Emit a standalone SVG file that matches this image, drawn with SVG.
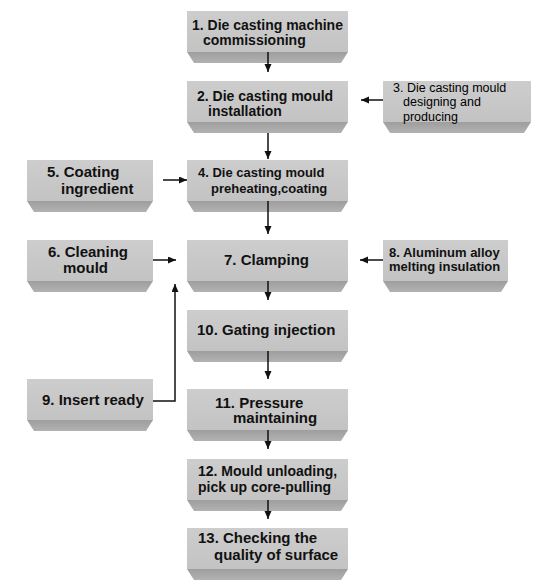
<svg xmlns="http://www.w3.org/2000/svg" width="549" height="586" viewBox="0 0 549 586">
<style>
.face{fill:url(#gFace)}
.bev{fill:url(#gBev)}
.t{font-family:"Liberation Sans",Arial,sans-serif;font-weight:bold;fill:#111}
.r{font-weight:normal;fill:#000;font-size:12.5px}
.s15{font-size:15px}.s14{font-size:14px}.s13{font-size:13px}
.c{fill:none;stroke:#111;stroke-width:1.5}
</style>
<defs>
<linearGradient id="gFace" x1="0" y1="0" x2="0" y2="1"><stop offset="0" stop-color="#cdcdcd"/><stop offset="1" stop-color="#c3c3c3"/></linearGradient>
<linearGradient id="gBev" x1="0" y1="0" x2="0" y2="1"><stop offset="0" stop-color="#9e9e9e"/><stop offset="1" stop-color="#b2b2b2"/></linearGradient>
<marker id="ah" markerUnits="userSpaceOnUse" markerWidth="9" markerHeight="8" refX="8" refY="3.5" orient="auto"><path d="M0,0 L8,3.5 L0,7 z" fill="#111"/></marker>
</defs>
<rect width="549" height="586" fill="#fff"/>

<g id="n1"><rect class="face" x="187" y="11" width="161" height="41"/><path class="bev" d="M187,52 H348 L341,63 H194 Z"/>
<text class="t s14" x="192" y="29.5">1. Die casting machine</text><text class="t s14" x="203" y="45">commissioning</text></g>

<g id="n2"><rect class="face" x="187" y="81" width="161" height="41"/><path class="bev" d="M187,122 H348 L341,133 H194 Z"/>
<text class="t s14" x="197" y="101">2. Die casting mould</text><text class="t s14" x="208" y="116">installation</text></g>

<g id="n3"><rect class="face" x="383" y="81" width="148" height="41"/><path class="bev" d="M383,122 H531 L524,133 H390 Z"/>
<text class="t r" x="393" y="91.5">3. Die casting mould</text><text class="t r" x="403" y="106">designing and</text><text class="t r" x="403" y="120.5">producing</text></g>

<g id="n5"><rect class="face" x="27" y="160" width="126" height="41"/><path class="bev" d="M27,201 H153 L146,212 H34 Z"/>
<text class="t s15" x="47" y="177">5. Coating</text><text class="t s15" x="61" y="194">ingredient</text></g>

<g id="n4"><rect class="face" x="187" y="160" width="161" height="41"/><path class="bev" d="M187,201 H348 L341,212 H194 Z"/>
<text class="t s13" x="198" y="177">4. Die casting mould</text><text class="t s13" x="211" y="193">preheating,coating</text></g>

<g id="n6"><rect class="face" x="27" y="240" width="126" height="41"/><path class="bev" d="M27,281 H153 L146,292 H34 Z"/>
<text class="t s15" x="48" y="257">6. Cleaning</text><text class="t s15" x="63" y="273">mould</text></g>

<g id="n7"><rect class="face" x="187" y="240" width="161" height="41"/><path class="bev" d="M187,281 H348 L341,292 H194 Z"/>
<text class="t s15" x="224" y="265">7. Clamping</text></g>

<g id="n8"><rect class="face" x="383" y="240" width="125" height="41"/><path class="bev" d="M383,281 H508 L501,292 H390 Z"/>
<text class="t s13" x="389" y="257">8. Aluminum alloy</text><text class="t s13" x="389" y="271">melting insulation</text></g>

<g id="n10"><rect class="face" x="187" y="310" width="161" height="41"/><path class="bev" d="M187,351 H348 L341,362 H194 Z"/>
<text class="t s15" x="197" y="335">10. Gating injection</text></g>

<g id="n9"><rect class="face" x="27" y="379" width="126" height="41"/><path class="bev" d="M27,420 H153 L146,431 H34 Z"/>
<text class="t s15" x="42" y="405">9. Insert ready</text></g>

<g id="n11"><rect class="face" x="187" y="389" width="161" height="41"/><path class="bev" d="M187,430 H348 L341,441 H194 Z"/>
<text class="t s15" x="215" y="408">11. Pressure</text><text class="t s15" x="233" y="423">maintaining</text></g>

<g id="n12"><rect class="face" x="187" y="459" width="161" height="41"/><path class="bev" d="M187,500 H348 L341,511 H194 Z"/>
<text class="t s14" x="198" y="476">12. Mould unloading,</text><text class="t s14" x="198" y="492">pick up core-pulling</text></g>

<g id="n13"><rect class="face" x="187" y="528" width="161" height="41"/><path class="bev" d="M187,569 H348 L341,580 H194 Z"/>
<text class="t s15" x="198" y="543">13. Checking the</text><text class="t s15" x="214" y="560">quality of surface</text></g>

<g id="connectors">
<path class="c" d="M268,52 V72" marker-end="url(#ah)"/>
<path class="c" d="M268,133 V159" marker-end="url(#ah)"/>
<path class="c" d="M268,201 V234" marker-end="url(#ah)"/>
<path class="c" d="M268,281 V300" marker-end="url(#ah)"/>
<path class="c" d="M268,351 V379" marker-end="url(#ah)"/>
<path class="c" d="M268,430 V449" marker-end="url(#ah)"/>
<path class="c" d="M268,500 V519" marker-end="url(#ah)"/>
<path class="c" d="M383,100 H361" marker-end="url(#ah)"/>
<path class="c" d="M163,180 H187" marker-end="url(#ah)"/>
<path class="c" d="M153,260 H176" marker-end="url(#ah)"/>
<path class="c" d="M383,260 H360" marker-end="url(#ah)"/>
<path class="c" d="M153,401 H175 V284" marker-end="url(#ah)"/>
</g>
</svg>
